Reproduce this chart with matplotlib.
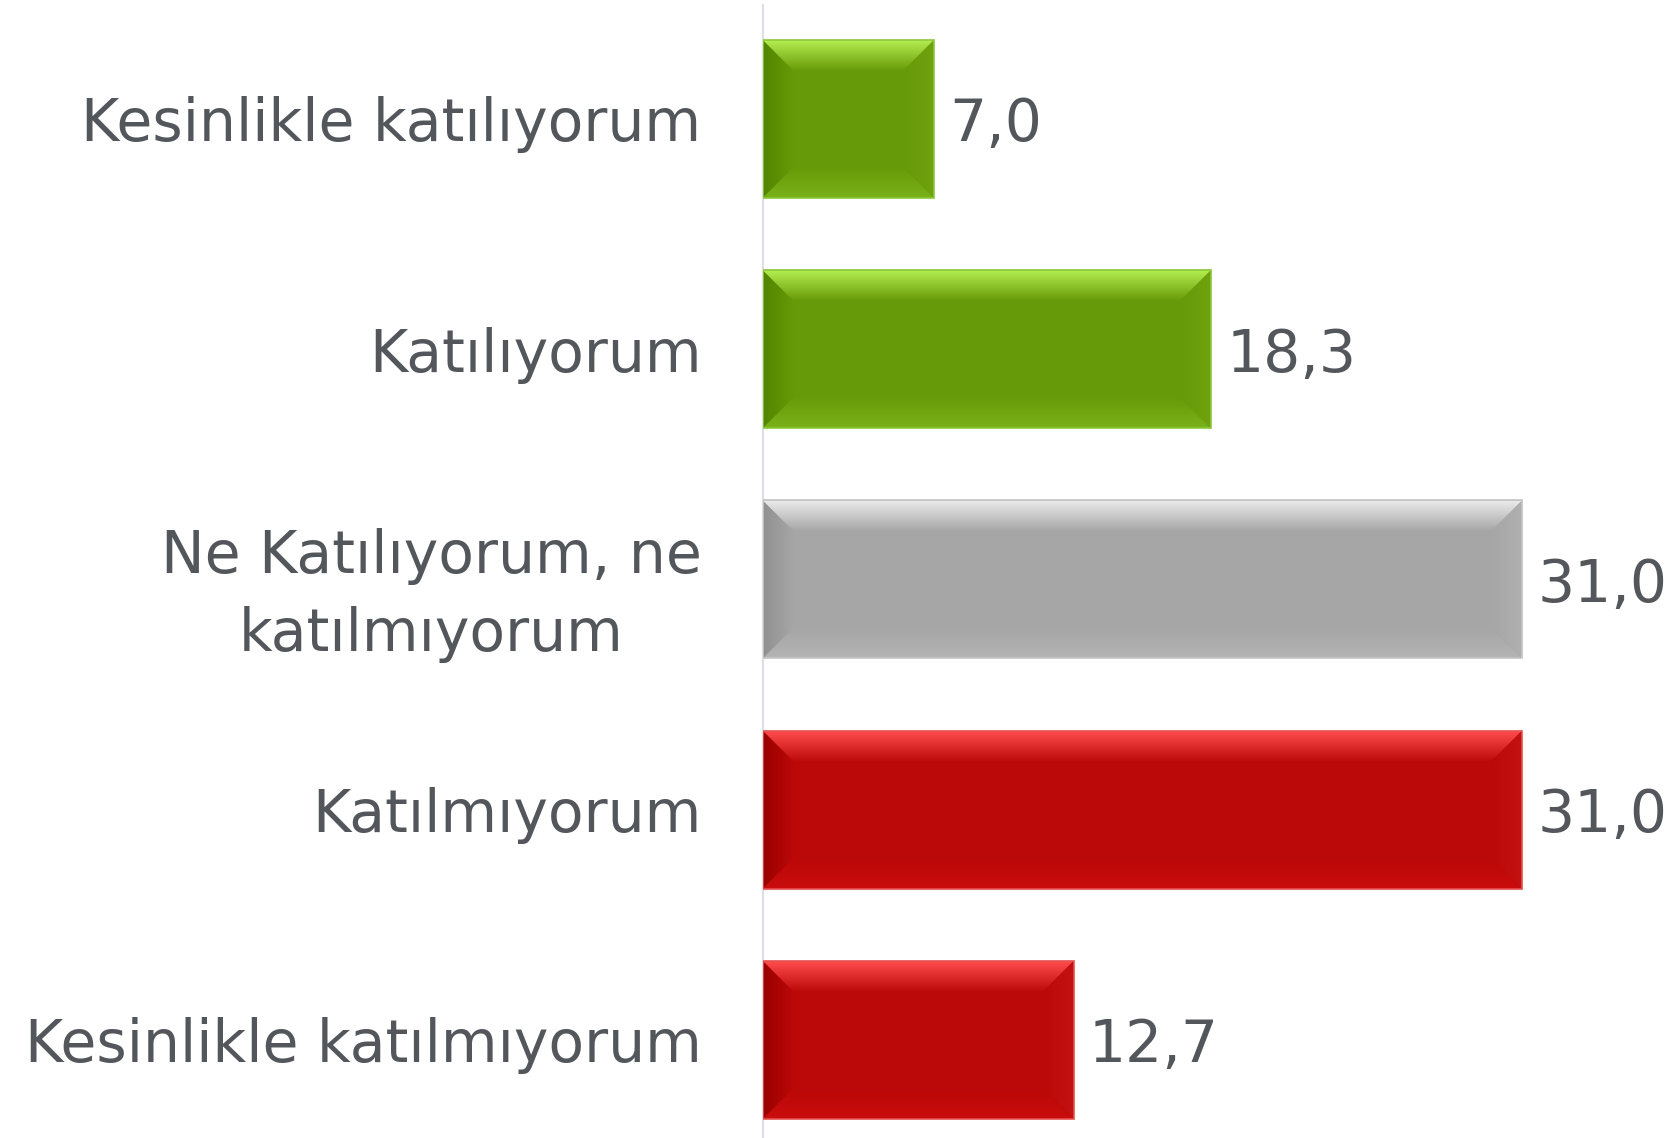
import numpy as np
import matplotlib
matplotlib.use("Agg")
import matplotlib.pyplot as plt
from matplotlib.patches import Polygon
from matplotlib.colors import to_rgb

# Survey responses (percent)
categories = [
    "Kesinlikle katılıyorum",
    "Katılıyorum",
    "Ne Katılıyorum, ne\nkatılmıyorum",
    "Katılmıyorum",
    "Kesinlikle katılmıyorum",
]
values = [7.0, 18.3, 31.0, 31.0, 12.7]
value_labels = ["7,0", "18,3", "31,0", "31,0", "12,7"]
tones = ["green", "green", "grey", "red", "red"]

# Bevel palettes: main fill, top light, left shade, right shade, bottom light, edge
palettes = {
    "green": dict(main="#679a08", top="#b4ee50", left="#548500", right="#70a210",
                  bottom="#7ab21a", edge="#8cc83a"),
    "grey": dict(main="#a6a6a6", top="#ececec", left="#919191", right="#b0b0b0",
                 bottom="#b4b4b4", edge="#c4c4c4"),
    "red": dict(main="#bb0808", top="#ff4c4c", left="#9a0000", right="#c41212",
                bottom="#ca0c0c", edge="#e45050"),
}

W, H, DPI = 1670, 1138, 100
fig = plt.figure(figsize=(W / DPI, H / DPI), dpi=DPI)
fig.patch.set_facecolor("white")

ax_left, ax_top, ax_bottom = 762.6, 5, 1138
ax = fig.add_axes([ax_left / W, 0, 1 - ax_left / W, (ax_bottom - ax_top) / H])

px_per_unit_x = 24.5
xmax = (W - ax_left) / px_per_unit_x
ax.set_xlim(0, xmax)
ax.set_ylim(4.426, -0.495)

pos = np.arange(len(categories))
bar_h = 0.686
bars = ax.barh(pos, values, height=bar_h,
               color=[palettes[t]["main"] for t in tones], zorder=2)

# bevel size in data units (about 31 px)
bx = 31 / px_per_unit_x
by = 31 / 230.25


def gradient_poly(verts, c0, c1, direction, zorder=3):
    """Fill polygon with a linear gradient from c0 to c1 along x or y."""
    xs = [v[0] for v in verts]
    ys = [v[1] for v in verts]
    c0, c1 = np.array(to_rgb(c0)), np.array(to_rgb(c1))
    t = np.linspace(0, 1, 128)
    cols = c0[None, :] * (1 - t[:, None]) + c1[None, :] * t[:, None]
    if direction[0] == "y":
        ya, yb = direction[1]
        img = cols[:, None, :]
        extent = (min(xs), max(xs), ya, yb)
    else:
        xa, xb = direction[1]
        img = cols[None, :, :]
        extent = (xa, xb, min(ys), max(ys))
    im = ax.imshow(img, extent=extent, origin="lower", aspect="auto",
                   interpolation="bilinear", zorder=zorder)
    poly = Polygon(verts, closed=True, transform=ax.transData,
                   facecolor="none", edgecolor="none")
    im.set_clip_path(poly)


for bar, tone in zip(bars, tones):
    p = palettes[tone]
    x0 = bar.get_x()
    x1 = x0 + bar.get_width()
    yt = bar.get_y()               # top on screen (y axis inverted)
    yb = yt + bar.get_height()     # bottom on screen
    # top bevel
    gradient_poly([(x0, yt), (x1, yt), (x1 - bx, yt + by), (x0 + bx, yt + by)],
                  p["top"], p["main"], ("y", (yt, yt + by)))
    # bottom bevel
    gradient_poly([(x0, yb), (x1, yb), (x1 - bx, yb - by), (x0 + bx, yb - by)],
                  p["bottom"], p["main"], ("y", (yb, yb - by)))
    # left bevel
    gradient_poly([(x0, yt), (x0 + bx, yt + by), (x0 + bx, yb - by), (x0, yb)],
                  p["left"], p["main"], ("x", (x0, x0 + bx)))
    # right bevel
    gradient_poly([(x1, yt), (x1 - bx, yt + by), (x1 - bx, yb - by), (x1, yb)],
                  p["right"], p["main"], ("x", (x1, x1 - bx)))
    # thin outline
    ax.add_patch(Polygon([(x0, yt), (x1, yt), (x1, yb), (x0, yb)], closed=True,
                         facecolor="none", edgecolor=p["edge"], linewidth=1.2,
                         zorder=4))

text_color = "#53575c"
font = "DejaVu Sans"
fs = 42

for bar, lab in zip(bars, value_labels):
    ax.annotate(lab, xy=(bar.get_width(), bar.get_y() + bar.get_height() / 2),
                xytext=(11, 0), textcoords="offset points",
                ha="left", va="center_baseline", fontsize=fs, color=text_color,
                family=font, zorder=5)

ax.set_yticks(pos)
ax.set_yticklabels(categories, fontsize=fs, color=text_color, family=font)
for lbl in ax.get_yticklabels():
    lbl.set_multialignment("center")
    lbl.set_linespacing(1.45)
ax.tick_params(axis="y", length=0, pad=44)
ax.set_xticks([])

for side in ("top", "right", "bottom"):
    ax.spines[side].set_visible(False)
ax.spines["left"].set_color("#dedee6")
ax.spines["left"].set_linewidth(1.5)
ax.set_facecolor("none")

fig.savefig("out.png", dpi=DPI, facecolor="white")
